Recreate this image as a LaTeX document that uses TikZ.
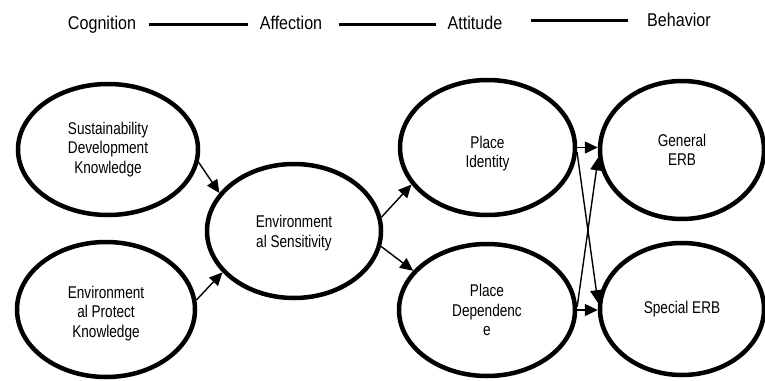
\documentclass[tikz,border=0pt]{standalone}
\usepackage{fontspec}
\setmainfont{Liberation Sans}[FakeStretch=0.8]
\newfontfamily\topfont{Liberation Sans}[FakeStretch=0.87]
\usetikzlibrary{shapes.geometric,arrows.meta}
\begin{document}
\begin{tikzpicture}[x=1pt,y=-1pt,
  ell/.style={draw, ellipse, line width=4.5pt, inner sep=0pt, align=center,
    font=\fontsize{17}{19.5}\selectfont},
  arr/.style={-{Triangle[length=13pt,width=12pt]}, line width=1.4pt},
  toplabel/.style={anchor=base, font=\topfont\fontsize{18.5}{20}\selectfont, inner sep=0pt},
  topline/.style={line width=3pt}]
\useasboundingbox (0,0) rectangle (765,380);

% top row
\node[toplabel] (cog) at (102,29) {Cognition};
\node[toplabel] (aff) at (291,29) {Affection};
\node[toplabel] (att) at (475,29) {Attitude};
\node[toplabel] (beh) at (679,27) {Behavior};
\coordinate (l1a) at (149,24); \coordinate (l1b) at (248,24);
\coordinate (l2a) at (339,24); \coordinate (l2b) at (436,24);
\coordinate (l3a) at (531,20); \coordinate (l3b) at (628,20);
\draw[topline] (l1a) -- (l1b);
\draw[topline] (l2a) -- (l2b);
\draw[topline] (l3a) -- (l3b);

% ellipses
\node[ell, minimum width=180pt, minimum height=131pt] (S) at (108,149.5) {Sustainability\\Development\\Knowledge};
\node[ell, minimum width=178pt, minimum height=135pt] (EP) at (106,309.5) {\rule{0pt}{20pt}Environment\\al Protect\\Knowledge};
\node[ell, minimum width=174pt, minimum height=134pt] (ES) at (294,231) {\rule{0pt}{17pt}Environment\\al Sensitivity};
\node[ell, minimum width=175pt, minimum height=135pt] (PI) at (487.5,147.5) {\rule{0pt}{25pt}Place\\Identity};
\node[ell, minimum width=176pt, minimum height=132pt] (PD) at (487,310) {Place\\Dependenc\\e};
\node[ell, minimum width=164pt, minimum height=138pt] (GE) at (682,150) {General\\ERB};
\node[ell, minimum width=164pt, minimum height=132pt] (SE) at (682,309) {Special ERB};

% arrows
\draw[arr] (S.-8) -- (ES.153);
\draw[arr] (EP.6) -- (ES.210);
\draw[arr] (ES.9) -- (PI.206);
\draw[arr] (ES.-10) -- (PD.152);
\draw[arr] (PI.east) -- (PI.east -| GE.west);
\draw[arr] (PI.-3) -- (SE.176);
\draw[arr] (PD.2) -- (GE.185);
\draw[arr] (PD.east) -- (PD.east -| SE.west);
\end{tikzpicture}
\end{document}
